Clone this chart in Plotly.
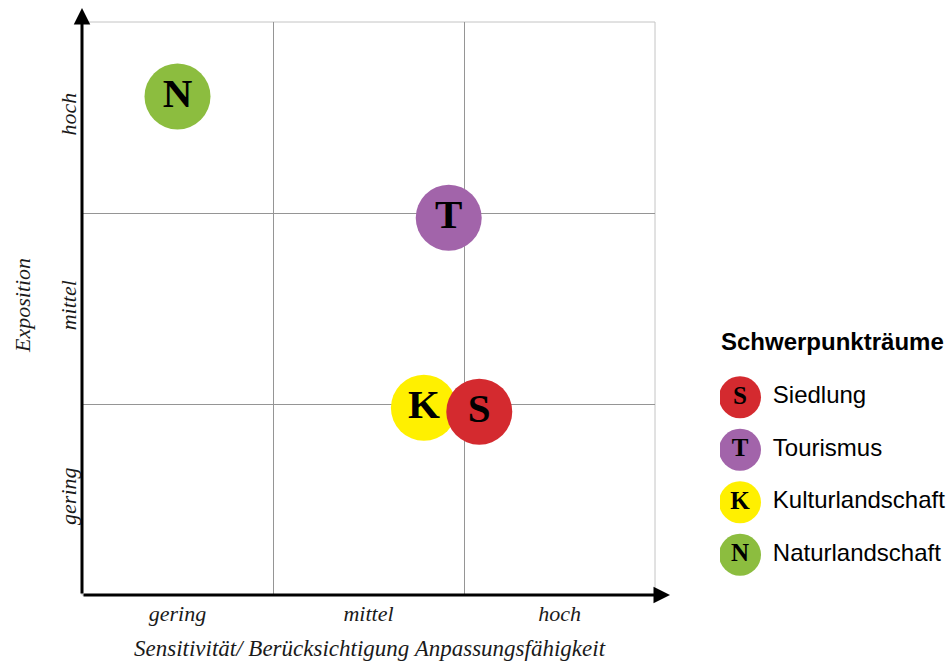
import plotly.graph_objects as go

# --- data -------------------------------------------------------------
levels = ["gering", "mittel", "hoch"]          # axis category labels
level_pos = [0.5, 1.5, 2.5]
cell_edges = [1, 2]

areas = ["Naturlandschaft", "Tourismus", "Kulturlandschaft", "Siedlung"]
letters = ["N", "T", "K", "S"]
sensitivity = [0.50, 1.92, 1.79, 2.08]         # x: Sensitivität / Anpassungsfähigkeit
exposition = [2.61, 1.975, 0.98, 0.96]          # y: Exposition
colors = ["#8cbd3f", "#a264aa", "#fff000", "#d42a2f"]

legend_order = ["Siedlung", "Tourismus", "Kulturlandschaft", "Naturlandschaft"]
legend_title = "Schwerpunkträume"

x_title = "Sensitivität/ Berücksichtigung Anpassungsfähigkeit"
y_title = "Exposition"

# --- page geometry (pixels) --------------------------------------------
W, H = 952, 668
PX0, PX1, PY0, PY1 = 82, 655, 22, 595   # plot box: left, right, top, bottom


def fx(px):
    return px / W


def fy(py):
    return 1 - py / H


serif = "Liberation Serif, Times New Roman, serif"
sans = "Liberation Sans, Arial, sans-serif"

fig = go.Figure()

# bubbles with their letters
fig.add_trace(go.Scatter(
    x=sensitivity, y=exposition, mode="markers+text",
    text=letters, textposition="middle center",
    textfont=dict(family=serif, size=41, color="black", weight="bold"),
    marker=dict(size=66, color=colors, line=dict(width=0), opacity=1),
    hoverinfo="text", hovertext=areas, showlegend=False,
    xaxis="x", yaxis="y",
))

# legend drawn on its own small axes
leg_idx = [areas.index(a) for a in legend_order]
rows = list(range(len(legend_order)))
fig.add_trace(go.Scatter(
    x=[0] * len(rows), y=rows, mode="markers+text",
    text=[letters[i] for i in leg_idx], textposition="middle center",
    textfont=dict(family=serif, size=25, color="black", weight="bold"),
    marker=dict(size=42, color=[colors[i] for i in leg_idx], line=dict(width=0)),
    hoverinfo="skip", showlegend=False, xaxis="x2", yaxis="y2",
))
fig.add_trace(go.Scatter(
    x=[0.82] * len(rows), y=rows, mode="text",
    text=legend_order, textposition="middle right",
    textfont=dict(family=sans, size=24, color="black"),
    hoverinfo="skip", showlegend=False, xaxis="x2", yaxis="y2",
))

axis_font = dict(family=serif, size=22, color="#1a1a1a", style="italic")
grid = dict(tickvals=cell_edges, showgrid=True, gridcolor="#959595", gridwidth=1)

fig.update_layout(
    width=W, height=H,
    margin=dict(l=0, r=0, t=0, b=0),
    paper_bgcolor="white", plot_bgcolor="white",
    xaxis=dict(
        domain=[fx(PX0), fx(PX1)], range=[0, 3], fixedrange=True,
        tickvals=level_pos, ticktext=levels, ticks="", showgrid=False,
        zeroline=False, showline=False, tickfont=axis_font,
        ticklabelstandoff=3, minor=grid,
    ),
    yaxis=dict(
        domain=[fy(PY1), fy(PY0)], range=[0, 3], fixedrange=True,
        tickvals=level_pos, ticktext=levels, ticks="", showgrid=False,
        zeroline=False, showline=False, tickfont=axis_font, tickangle=-90,
        ticklabelstandoff=1, minor=grid,
    ),
    xaxis2=dict(
        domain=[fx(720), fx(952)], range=[-0.5, 5.3], visible=False, fixedrange=True,
    ),
    yaxis2=dict(
        domain=[fy(581), fy(371)], range=[3.5, -0.5], visible=False, fixedrange=True,
    ),
    showlegend=False,
    shapes=[dict(type="rect", xref="x domain", yref="y domain",
                 x0=0, x1=1, y0=0, y1=1, layer="below",
                 line=dict(color="#c4c4c4", width=1))],
)

# axis arrows
arrow = dict(xref="paper", yref="paper", showarrow=True, arrowhead=2,
             arrowsize=1.1, arrowwidth=3, arrowcolor="black", text="",
             standoff=0, startstandoff=0)
fig.add_annotation(x=fx(670), y=fy(PY1), ax=-(670 - PX0), ay=0, **arrow)
fig.add_annotation(x=fx(PX0), y=fy(8), ax=0, ay=(PY1 - 8), **arrow)

# axis titles and legend heading
fig.add_annotation(x=fx(370), y=fy(648), xref="paper", yref="paper",
                   text=x_title, showarrow=False, xanchor="center", yanchor="middle",
                   font=dict(family=serif, size=23, color="#1a1a1a", style="italic"))
fig.add_annotation(x=fx(22), y=fy(306), xref="paper", yref="paper",
                   text=y_title, showarrow=False, textangle=-90,
                   xanchor="center", yanchor="middle",
                   font=dict(family=serif, size=22, color="#1a1a1a", style="italic"))
fig.add_annotation(x=fx(719), y=fy(341), xref="paper", yref="paper",
                   text=f"<b>{legend_title}</b>", showarrow=False,
                   xanchor="left", yanchor="middle",
                   font=dict(family=sans, size=24, color="black"))

fig.write_html("out.html")
